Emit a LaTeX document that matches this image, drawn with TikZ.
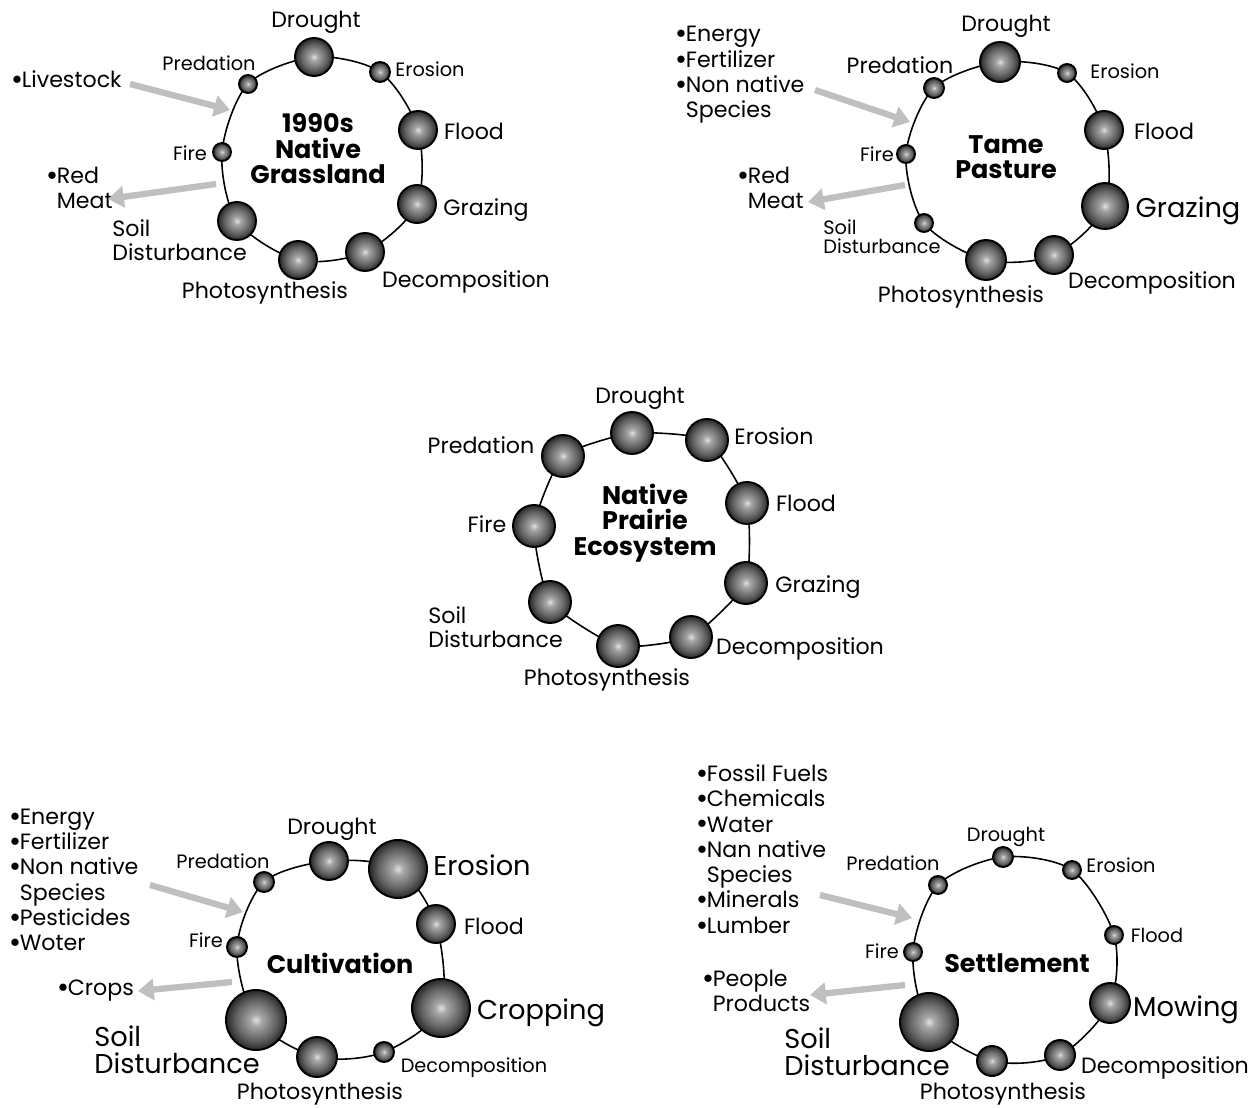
\documentclass[tikz,border=0pt]{standalone}
\usepackage{fontspec}
\setmainfont{Poppins}
\usetikzlibrary{arrows.meta, positioning, backgrounds}
\newcommand{\bul}{\raisebox{0.25ex}{\scalebox{0.9}{$\bullet$}}}
\pgfdeclareradialshading{orbshade}{\pgfpoint{0bp}{0bp}}{color(0bp)=(black!12); color(5bp)=(black!35);
  color(17bp)=(black!62); color(24bp)=(black!82); color(50bp)=(black!82)}
\tikzset{
  orb/.style={circle, draw=black, line width=1.1pt, inner sep=0pt, minimum size=#1*0.4mm, shading=orbshade},
  ring/.style={draw=black, line width=0.9pt},
  lab/.style={font=\fontsize{12.6}{13.4}\selectfont, inner sep=0pt},
  labs/.style={font=\fontsize{11}{10.6}\selectfont, inner sep=0pt},
  labb/.style={font=\fontsize{15.5}{15.2}\selectfont, inner sep=0pt},
  list/.style={font=\fontsize{12.6}{14.4}\selectfont, inner sep=0pt, align=left, anchor=west},
  ttl/.style={font=\bfseries\fontsize{14.5}{14.5}\selectfont, inner sep=0pt, align=center},
  feed/.style={draw=gray!50, line width=3.6pt, -{Triangle[length=9pt,width=12pt]}}
}
\begin{document}
\begin{tikzpicture}[x=0.02cm, y=-0.02cm]
\useasboundingbox (0,0) rectangle (1251,1108);

% 1990s native grassland
\foreach \n/\x/\y/\r in {dro/314/57/19, ero/380/72/10, flo/418/130/19, gra/417/204/19, dec/365/252/19,
    pho/298/260/19, soi/237/221/19, fir/222/152/9, pre/248/84/9}
  \node[orb=\r] (A-\n) at (\x,\y) {};
\begin{scope}[on background layer]
\draw[ring] plot[smooth cycle] coordinates {(A-dro) (A-ero) (A-flo) (A-gra) (A-dec) (A-pho) (A-soi) (A-fir) (A-pre)};
\end{scope}
\node[lab] (A-tdro) at (316,22) {Drought};
\node[labs] (A-tpre) at (209,63) {Predation};
\node[labs] (A-tero) at (430,69) {Erosion};
\node[lab] (A-tflo) at (474,131) {Flood};
\node[lab] (A-tgra) at (486,210) {Grazing};
\node[lab] (A-tdec) at (466,282) {Decomposition};
\node[lab] (A-tpho) at (265,293) {Photosynthesis};
\node[lab, align=left, anchor=west] (A-tsoi) at (112,240) {Soil\\Disturbance};
\node[labs] (A-tfir) at (190,153) {Fire};
\node[ttl] (A-name) at (318,149) {1990s\\Native\\Grassland};
\node[list] (A-in) at (12,79) {\bul Livestock};
\node[list] (A-out) at (47,188) {\bul Red\\\phantom{\bul}Meat};
\coordinate (A-s1) at (130,84);
\coordinate (A-e1) at (230,110);
\coordinate (A-s2) at (216,184);
\coordinate (A-e2) at (108,199);
\draw[feed] (A-s1) -- (A-e1);
\draw[feed] (A-s2) -- (A-e2);

% tame pasture
\foreach \n/\x/\y/\r in {dro/1000/62/20, ero/1067/73/9, flo/1104/130/19, gra/1105/206/23, dec/1054/255/19,
    pho/986/260/20, soi/924/223/9, fir/906/154/9, pre/934/88/10}
  \node[orb=\r] (B-\n) at (\x,\y) {};
\begin{scope}[on background layer]
\draw[ring] plot[smooth cycle] coordinates {(B-dro) (B-ero) (B-flo) (B-gra) (B-dec) (B-pho) (B-soi) (B-fir) (B-pre)};
\end{scope}
\node[lab] (B-tdro) at (1006,26) {Drought};
\node[lab] (B-tpre) at (900,65) {Predation};
\node[labs] (B-tero) at (1125,71) {Erosion};
\node[lab] (B-tflo) at (1164,131) {Flood};
\node[labb] (B-tgra) at (1188,211) {Grazing};
\node[lab] (B-tdec) at (1152,283) {Decomposition};
\node[lab] (B-tpho) at (961,297) {Photosynthesis};
\node[labs, align=left, anchor=west] (B-tsoi) at (823,237) {Soil\\Disturbance};
\node[labs] (B-tfir) at (877,154) {Fire};
\node[ttl] (B-name) at (1006,157) {Tame\\Pasture};
\node[list] (B-in) at (676,75) {\bul Energy\\\bul Fertilizer\\\bul Non native\\\phantom{\bul}Species};
\node[list] (B-out) at (738,188) {\bul Red\\\phantom{\bul}Meat};
\coordinate (B-s1) at (815,90);
\coordinate (B-e1) at (910,122);
\coordinate (B-s2) at (905,185);
\coordinate (B-e2) at (808,202);
\draw[feed] (B-s1) -- (B-e1);
\draw[feed] (B-s2) -- (B-e2);

% native prairie ecosystem
\foreach \n/\x/\y in {dro/632/433, ero/707/440, flo/747/503, gra/746/583, dec/691/637,
    pho/618/646, soi/550/602, fir/534/526, pre/563/456}
  \node[orb=21] (C-\n) at (\x,\y) {};
\begin{scope}[on background layer]
\draw[ring] plot[smooth cycle, tension=0.3] coordinates {(C-dro) (C-ero) (C-flo) (C-gra) (C-dec) (C-pho) (C-soi) (C-fir) (C-pre)};
\end{scope}
\node[lab] (C-tdro) at (640,398) {Drought};
\node[lab] (C-tpre) at (481,445) {Predation};
\node[lab] (C-tero) at (774,436) {Erosion};
\node[lab] (C-tflo) at (806,503) {Flood};
\node[lab] (C-tgra) at (818,587) {Grazing};
\node[lab] (C-tdec) at (800,649) {Decomposition};
\node[lab] (C-tpho) at (607,680) {Photosynthesis};
\node[lab, align=left, anchor=west] (C-tsoi) at (428,627) {Soil\\Disturbance};
\node[lab] (C-tfir) at (487,524) {Fire};
\node[ttl] (C-name) at (645,523) {Native\\Prairie\\Ecosystem};

% cultivation
\foreach \n/\x/\y/\r in {dro/329/861/19, ero/398/869/29, flo/436/924/19, cro/441/1008/29, dec/384/1052/10,
    pho/317/1057/20, soi/256/1020/30, fir/237/947/10, pre/264/882/10}
  \node[orb=\r] (D-\n) at (\x,\y) {};
\begin{scope}[on background layer]
\draw[ring] plot[smooth cycle] coordinates {(D-dro) (D-ero) (D-flo) (D-cro) (D-dec) (D-pho) (D-soi) (D-fir) (D-pre)};
\end{scope}
\node[lab] (D-tdro) at (332,829) {Drought};
\node[labs] (D-tpre) at (223,861) {Predation};
\node[labb] (D-tero) at (482,865) {Erosion};
\node[lab] (D-tflo) at (494,926) {Flood};
\node[labb] (D-tcro) at (541,1013) {Cropping};
\node[labs] (D-tdec) at (474,1068) {Decomposition};
\node[lab] (D-tpho) at (320,1094) {Photosynthesis};
\node[labb, align=left, anchor=west] (D-tsoi) at (94,1050) {Soil\\Disturbance};
\node[labs] (D-tfir) at (206,940) {Fire};
\node[ttl] (D-name) at (340,963) {Cultivation};
\node[list] (D-in) at (10,880) {\bul Energy\\\bul Fertilizer\\\bul Non native\\\phantom{\bul}Species\\\bul Pesticides\\\bul Woter};
\node[list] (D-out) at (58,991) {\bul Crops};
\coordinate (D-s1) at (150,885);
\coordinate (D-e1) at (243,912);
\coordinate (D-s2) at (232,982);
\coordinate (D-e2) at (138,991);
\draw[feed] (D-s1) -- (D-e1);
\draw[feed] (D-s2) -- (D-e2);

% settlement
\foreach \n/\x/\y/\r in {dro/1003/857/10, ero/1072/870/9, flo/1114/935/9, mow/1110/1003/20, dec/1060/1055/15,
    pho/992/1061/15, soi/929/1022/29, fir/913/952/9, pre/938/885/9}
  \node[orb=\r] (E-\n) at (\x,\y) {};
\begin{scope}[on background layer]
\draw[ring] plot[smooth cycle] coordinates {(E-dro) (E-ero) (E-flo) (E-mow) (E-dec) (E-pho) (E-soi) (E-fir) (E-pre)};
\end{scope}
\node[labs] (E-tdro) at (1006,837) {Drought};
\node[labs] (E-tpre) at (893,863) {Predation};
\node[labs] (E-tero) at (1121,865) {Erosion};
\node[labs] (E-tflo) at (1157,935) {Flood};
\node[labb] (E-tmow) at (1186,1010) {Mowing};
\node[lab] (E-tdec) at (1165,1068) {Decomposition};
\node[lab] (E-tpho) at (1003,1094) {Photosynthesis};
\node[labb, align=left, anchor=west] (E-tsoi) at (784,1052) {Soil\\Disturbance};
\node[labs] (E-tfir) at (882,951) {Fire};
\node[ttl] (E-name) at (1017,963) {Settlement};
\node[list] (E-in) at (697,849) {\bul Fossil Fuels\\\bul Chemicals\\\bul Water\\\bul Nan native\\\phantom{\bul}Species\\\bul Minerals\\\bul Lumber};
\node[list] (E-out) at (703,991) {\bul People\\\phantom{\bul}Products};
\coordinate (E-s1) at (820,895);
\coordinate (E-e1) at (912,918);
\coordinate (E-s2) at (905,985);
\coordinate (E-e2) at (810,995);
\draw[feed] (E-s1) -- (E-e1);
\draw[feed] (E-s2) -- (E-e2);
\end{tikzpicture}
\end{document}
